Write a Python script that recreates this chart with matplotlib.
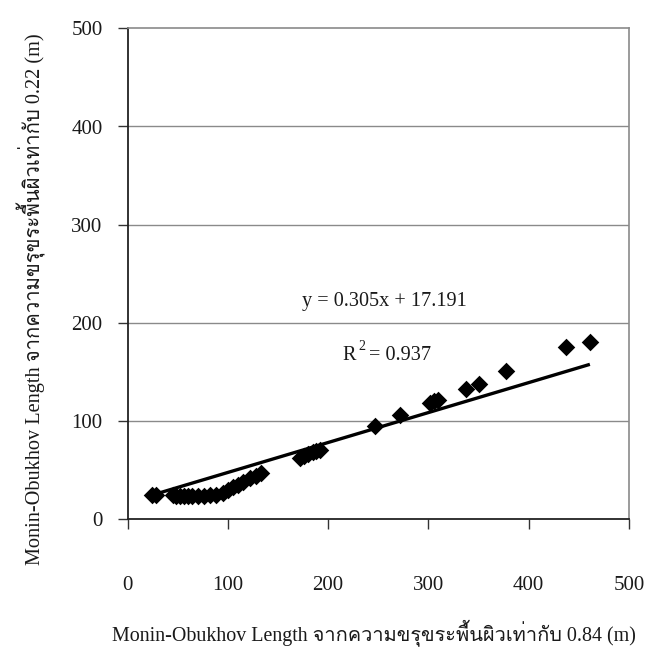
import matplotlib
matplotlib.use("Agg")
import matplotlib.pyplot as plt
from matplotlib import font_manager
from matplotlib.ft2font import FT2Font

# Monin-Obukhov length: roughness 0.84 m (x) vs roughness 0.22 m (y)
x_vals = [24, 28, 45, 48, 52, 56, 60, 64, 70, 76, 82, 88,
          95, 100, 105, 110, 115, 122, 128, 133,
          172, 176, 180, 185, 188, 192,
          247, 272, 302, 306, 310, 337, 350, 377, 437, 461]
y_vals = [25, 25, 25, 24, 24, 24, 24, 24, 24, 24, 25, 25,
          27, 30, 33, 35, 38, 42, 44, 47,
          62, 64, 66, 69, 70, 71,
          95, 106, 118, 120, 121, 133, 138, 151, 175, 181]

slope = 0.305
intercept = 17.191
r_squared = 0.937

x_ticks = [0, 100, 200, 300, 400, 500]
y_ticks = [0, 100, 200, 300, 400, 500]

x_label = "Monin-Obukhov Length จากความขรุขระพื้นผิวเท่ากับ 0.84 (m)"
y_label = "Monin-Obukhov Length จากความขรุขระพื้นผิวเท่ากับ 0.22 (m)"


def thai_font_family():
    """Return a family name that has Thai glyphs, if one is installed."""
    found = []
    for f in font_manager.fontManager.ttflist:
        try:
            cmap = FT2Font(f.fname).get_charmap()
        except Exception:
            continue
        if 0x0E08 in cmap and 0x0E1E in cmap:
            found.append(f.name)
    pref = ["Loma", "Garuda", "Norasi", "Kinnari", "Noto Serif Thai", "Noto Sans Thai",
            "Tlwg Typo", "FreeSerif", "DejaVu Sans"]
    for p in pref:
        if p in found:
            return p
    return found[0] if found else "DejaVu Sans"


thai = thai_font_family()
families = ["Liberation Serif", thai, "DejaVu Sans"]
plt.rcParams["font.family"] = families

TXT = "#1a1a1a"
W, H = 648, 647
fig = plt.figure(figsize=(W / 100, H / 100), dpi=100)
left, right = 127.5 / W, 629 / W
bottom, top = (H - 519.3) / H, (H - 28.3) / H
ax = fig.add_axes([left, bottom, right - left, top - bottom])

ax.set_xlim(0, 500)
ax.set_ylim(0, 500)
ax.set_xticks(x_ticks)
ax.set_yticks(y_ticks)

# horizontal gridlines
for yv in y_ticks[1:-1]:
    ax.axhline(yv, color="#8a8a8a", lw=1.0, zorder=1)

for side in ("top", "right"):
    ax.spines[side].set_color("#8a8a8a")
    ax.spines[side].set_linestyle((0, (1, 1)))
    ax.spines[side].set_linewidth(1.2)
for side in ("left", "bottom"):
    ax.spines[side].set_color("#222222")
    ax.spines[side].set_linewidth(1.3)

ax.tick_params(axis="both", direction="out", length=7, width=1.0, color="#333333",
               labelsize=15, labelcolor=TXT)
ax.tick_params(axis="x", pad=34)
ax.tick_params(axis="y", pad=11)

ax.scatter(x_vals, y_vals, marker="D", s=80, color="black", zorder=3, linewidths=0)

x0, x1 = min(x_vals), max(x_vals)
ax.plot([x0, x1], [slope * x0 + intercept, slope * x1 + intercept],
        color="black", lw=2.4, solid_capstyle="butt", zorder=4)

ax.text(256, 221.5, f"y = {slope:.3f}x + {intercept:.3f}", fontsize=14.6,
        ha="center", va="center", color=TXT)

# R² label built from pieces so the exponent sits high like the source style
r_txt = ax.text(214, 167, "R", fontsize=14.6, ha="left", va="center", color=TXT)
ax.annotate("2", xy=(214, 167), xycoords="data", xytext=(11.5, 6.5),
            textcoords="offset points", fontsize=10, ha="left", va="center", color=TXT)
ax.annotate(f"= {r_squared:.3f}", xy=(214, 167), xycoords="data", xytext=(19, 0),
            textcoords="offset points", fontsize=14.6, ha="left", va="center", color=TXT)

fig.text(374 / W, 1 - 633 / H, x_label, fontsize=14.4, ha="center", va="center",
         color=TXT)
fig.text(31 / W, 1 - 299 / H, y_label, fontsize=14.6, ha="center", va="center",
         rotation=90, color=TXT)

fig.savefig("out.png", dpi=100, facecolor="white")
